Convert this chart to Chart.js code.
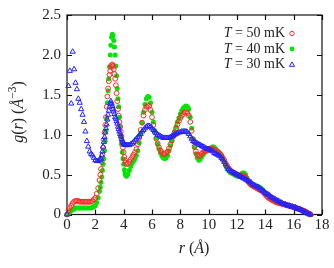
<!DOCTYPE html>
<html>
<head>
<meta charset="utf-8">
<script src="https://cdn.jsdelivr.net/npm/chart.js@4.4.0/dist/chart.umd.min.js"></script>
<style>
  html, body { margin: 0; padding: 0; background: #fff; }
  #wrap { width: 334px; height: 268px; }
</style>
</head>
<body>
<div id="wrap"><canvas id="myChart" width="334" height="268"></canvas></div>
<script>
// r grid (Å): 0.1 steps, 0.05 steps around the first peak
const radius = [
  0.0, 0.1, 0.2, 0.3, 0.4, 0.5, 0.6, 0.7, 0.8, 0.9, 1.0, 1.1, 1.2, 1.3, 1.4, 1.5, 1.6, 1.7, 1.8, 1.9, 2.0, 2.1, 2.2, 2.3,
  2.35, 2.40, 2.45, 2.50, 2.55, 2.60, 2.65, 2.70, 2.75, 2.80, 2.85, 2.90, 2.95, 3.00, 3.05, 3.10, 3.15, 3.20, 3.25,
  3.30, 3.35, 3.40, 3.45, 3.50, 3.55, 3.60, 3.65, 3.70, 3.75, 3.80, 3.85, 3.90, 3.95, 4.00, 4.05, 4.10, 4.15, 4.20,
  4.3, 4.4, 4.5, 4.6, 4.7, 4.8, 4.9, 5.0, 5.1, 5.2,
  5.3, 5.4, 5.5, 5.6, 5.7, 5.8, 5.9, 6.0, 6.1, 6.2,
  6.3, 6.4, 6.5, 6.6, 6.7, 6.8, 6.9, 7.0, 7.1, 7.2,
  7.3, 7.4, 7.5, 7.6, 7.7, 7.8, 7.9, 8.0, 8.1, 8.2,
  8.3, 8.4, 8.5, 8.6, 8.7, 8.8, 8.9, 9.0, 9.1, 9.2,
  9.3, 9.4, 9.5, 9.6, 9.7, 9.8, 9.9, 10.0, 10.1, 10.2,
  10.3, 10.4, 10.5, 10.6, 10.7, 10.8, 10.9, 11.0, 11.1, 11.2,
  11.3, 11.4, 11.5, 11.6, 11.7, 11.8, 11.9, 12.0, 12.1, 12.2,
  12.3, 12.4, 12.5, 12.6, 12.7, 12.8, 12.9, 13.0, 13.1, 13.2,
  13.3, 13.4, 13.5, 13.6, 13.7, 13.8, 13.9, 14.0, 14.1, 14.2,
  14.3, 14.4, 14.5, 14.6, 14.7, 14.8, 14.9, 15.0, 15.1, 15.2,
  15.3, 15.4, 15.5, 15.6, 15.7, 15.8, 15.9, 16.0, 16.1, 16.2,
  16.3, 16.4, 16.5, 16.6, 16.7, 16.8, 16.9, 17.0, 17.1, 17.2,
];

// T = 50 mK
const g50 = [
  0.00, 0.05, 0.08, 0.11, 0.14, 0.16, 0.17, 0.17, 0.17, 0.16, 0.16, 0.16, 0.16, 0.16, 0.16, 0.16, 0.16, 0.16, 0.17, 0.19, 0.21, 0.26, 0.33, 0.43,
  0.50, 0.57, 0.66, 0.75, 0.84, 0.94, 1.03, 1.12, 1.22, 1.35, 1.48, 1.58, 1.67, 1.75, 1.80, 1.85, 1.87, 1.88, 1.86,
  1.82, 1.76, 1.70, 1.62, 1.52, 1.42, 1.32, 1.24, 1.16, 1.10, 1.04, 0.98, 0.90, 0.84, 0.78, 0.72, 0.68, 0.65, 0.63,
  0.64, 0.66, 0.69, 0.72, 0.75, 0.78, 0.82, 0.88, 0.96, 1.06,
  1.15, 1.24, 1.31, 1.35, 1.37, 1.36, 1.31, 1.22, 1.12, 1.03,
  0.95, 0.89, 0.84, 0.80, 0.78, 0.76, 0.76, 0.77, 0.79, 0.83,
  0.88, 0.93, 0.98, 1.03, 1.08, 1.13, 1.17, 1.21, 1.24, 1.26,
  1.28, 1.28, 1.27, 1.24, 1.16, 1.05, 0.94, 0.85, 0.79, 0.75,
  0.73, 0.74, 0.76, 0.78, 0.79, 0.80, 0.81, 0.81, 0.82, 0.82,
  0.82, 0.81, 0.80, 0.79, 0.78, 0.76, 0.74, 0.71, 0.68, 0.64,
  0.61, 0.58, 0.56, 0.54, 0.53, 0.52, 0.51, 0.50, 0.49, 0.49,
  0.49, 0.49, 0.48, 0.47, 0.44, 0.41, 0.39, 0.37, 0.36, 0.35,
  0.34, 0.33, 0.32, 0.31, 0.30, 0.29, 0.27, 0.25, 0.23, 0.21,
  0.20, 0.19, 0.18, 0.17, 0.16, 0.15, 0.15, 0.14, 0.14, 0.13,
  0.13, 0.12, 0.12, 0.11, 0.11, 0.10, 0.10, 0.09, 0.09, 0.08,
  0.07, 0.07, 0.06, 0.05, 0.05, 0.04, 0.03, 0.02, 0.01, 0.00,
];

// T = 40 mK
const g40 = [
  0.00, 0.01, 0.03, 0.05, 0.06, 0.07, 0.08, 0.08, 0.08, 0.08, 0.08, 0.08, 0.08, 0.08, 0.08, 0.08, 0.08, 0.08, 0.09, 0.10, 0.11, 0.15, 0.21, 0.29,
  0.34, 0.40, 0.47, 0.55, 0.63, 0.70, 0.80, 0.92, 1.05, 1.20, 1.40, 1.55, 1.70, 1.85, 2.00, 2.12, 2.22, 2.26, 2.24,
  2.18, 2.10, 2.00, 1.86, 1.74, 1.58, 1.45, 1.35, 1.22, 1.10, 0.98, 0.88, 0.78, 0.70, 0.63, 0.56, 0.51, 0.49, 0.48,
  0.50, 0.55, 0.60, 0.64, 0.67, 0.70, 0.74, 0.80, 0.90, 1.02,
  1.15, 1.28, 1.38, 1.45, 1.48, 1.47, 1.40, 1.28, 1.16, 1.05,
  0.96, 0.88, 0.82, 0.77, 0.73, 0.71, 0.70, 0.71, 0.74, 0.80,
  0.86, 0.92, 0.98, 1.04, 1.10, 1.16, 1.21, 1.26, 1.30, 1.33,
  1.35, 1.36, 1.35, 1.32, 1.22, 1.08, 0.95, 0.84, 0.76, 0.71,
  0.68, 0.69, 0.72, 0.75, 0.77, 0.79, 0.80, 0.81, 0.83, 0.84,
  0.85, 0.84, 0.82, 0.80, 0.78, 0.76, 0.73, 0.70, 0.66, 0.61,
  0.57, 0.55, 0.53, 0.52, 0.51, 0.50, 0.49, 0.48, 0.48, 0.49,
  0.51, 0.52, 0.52, 0.50, 0.46, 0.42, 0.39, 0.37, 0.36, 0.35,
  0.35, 0.35, 0.35, 0.34, 0.33, 0.31, 0.29, 0.27, 0.25, 0.23,
  0.21, 0.19, 0.18, 0.17, 0.16, 0.15, 0.15, 0.14, 0.14, 0.13,
  0.13, 0.13, 0.12, 0.12, 0.11, 0.10, 0.10, 0.09, 0.09, 0.08,
  0.07, 0.07, 0.06, 0.05, 0.05, 0.04, 0.03, 0.02, 0.01, 0.00,
];

// T = 30 mK
const g30 = [
  0.00, 1.61, 1.80, 1.39, 2.04, 1.82, 1.65, 1.57, 1.45, 1.40, 1.32, 1.25, 1.16, 1.04, 0.92, 0.85, 0.79, 0.76, 0.74, 0.71, 0.68, 0.67, 0.67, 0.69,
  0.68, 0.70, 0.74, 0.79, 0.85, 0.91, 0.97, 1.03, 1.08, 1.13, 1.19, 1.25, 1.30, 1.35, 1.39, 1.42, 1.39, 1.36, 1.32,
  1.29, 1.26, 1.22, 1.20, 1.17, 1.14, 1.10, 1.07, 1.04, 1.01, 0.98, 0.95, 0.93, 0.91, 0.89, 0.88, 0.87, 0.87, 0.87,
  0.87, 0.87, 0.88, 0.89, 0.91, 0.93, 0.95, 0.97, 0.99, 1.01,
  1.04, 1.06, 1.08, 1.10, 1.11, 1.11, 1.10, 1.08, 1.06, 1.04,
  1.02, 1.00, 0.99, 0.98, 0.97, 0.96, 0.96, 0.96, 0.96, 0.96,
  0.97, 0.98, 0.99, 1.00, 1.01, 1.02, 1.03, 1.03, 1.04, 1.04,
  1.04, 1.04, 1.03, 1.01, 0.98, 0.95, 0.92, 0.91, 0.90, 0.89,
  0.88, 0.87, 0.86, 0.85, 0.84, 0.83, 0.82, 0.82, 0.81, 0.80,
  0.79, 0.77, 0.76, 0.75, 0.74, 0.73, 0.71, 0.69, 0.66, 0.63,
  0.60, 0.57, 0.55, 0.54, 0.53, 0.52, 0.51, 0.50, 0.49, 0.48,
  0.47, 0.46, 0.45, 0.44, 0.43, 0.42, 0.41, 0.40, 0.38, 0.37,
  0.36, 0.35, 0.34, 0.33, 0.31, 0.30, 0.29, 0.27, 0.26, 0.25,
  0.24, 0.22, 0.21, 0.20, 0.19, 0.18, 0.17, 0.16, 0.15, 0.14,
  0.13, 0.13, 0.12, 0.11, 0.11, 0.10, 0.10, 0.09, 0.09, 0.08,
  0.07, 0.07, 0.06, 0.05, 0.04, 0.03, 0.02, 0.01, 0.00, 0.00,
];

const xTicks = [0, 2, 4, 6, 8, 10, 12, 14, 16, 18];
const yTicks = [0, 0.5, 1, 1.5, 2, 2.5];
const seriesNames = ["50", "40", "30"];

const RED = "#ff2a2a";
const GREEN = "#00e600";
const BLUE = "#2222ff";
const SERIF = "'Liberation Serif', 'DejaVu Serif', serif";

function points(values) {
  return radius.map((r, i) => ({ x: r, y: values[i] }));
}

// draws a list of [text, style, raise] pieces one after another
function drawRuns(ctx, runs, x, y, align, size) {
  const fontOf = (run) => {
    const s = run[2] ? size * 0.72 : size;
    return (run[1] === "i" ? "italic " : "") + s + "px " + SERIF;
  };
  let total = 0;
  runs.forEach((run) => {
    ctx.font = fontOf(run);
    total += ctx.measureText(run[0]).width;
  });
  let cx = x;
  if (align === "center") cx = x - total / 2;
  if (align === "right") cx = x - total;
  ctx.textBaseline = "middle";
  ctx.textAlign = "left";
  runs.forEach((run) => {
    ctx.font = fontOf(run);
    ctx.fillText(run[0], cx, y - (run[2] || 0));
    cx += ctx.measureText(run[0]).width;
  });
}

function marker(ctx, kind, x, y) {
  ctx.lineWidth = 1;
  if (kind === 0) {
    ctx.strokeStyle = RED;
    ctx.beginPath();
    ctx.arc(x, y, 2.2, 0, Math.PI * 2);
    ctx.stroke();
  } else if (kind === 1) {
    ctx.fillStyle = GREEN;
    ctx.beginPath();
    ctx.arc(x, y, 2.4, 0, Math.PI * 2);
    ctx.fill();
  } else {
    ctx.strokeStyle = BLUE;
    ctx.beginPath();
    ctx.moveTo(x - 2.6, y + 1.8);
    ctx.lineTo(x + 2.6, y + 1.8);
    ctx.lineTo(x, y - 2.6);
    ctx.closePath();
    ctx.stroke();
  }
}

const framePlugin = {
  id: "frame",
  beforeDatasetsDraw(chart) {
    const { ctx, chartArea: a, scales } = chart;
    ctx.save();
    ctx.strokeStyle = "#111";
    ctx.lineWidth = 1.2;
    ctx.strokeRect(a.left, a.top, a.right - a.left, a.bottom - a.top);
    ctx.beginPath();
    xTicks.forEach((v) => {
      const px = Math.round(scales.x.getPixelForValue(v)) + 0.5;
      ctx.moveTo(px, a.bottom);
      ctx.lineTo(px, a.bottom - 5);
      ctx.moveTo(px, a.top);
      ctx.lineTo(px, a.top + 5);
    });
    yTicks.forEach((v) => {
      const py = Math.round(scales.y.getPixelForValue(v)) + 0.5;
      ctx.moveTo(a.left, py);
      ctx.lineTo(a.left + 5, py);
      ctx.moveTo(a.right, py);
      ctx.lineTo(a.right - 5, py);
    });
    ctx.stroke();
    ctx.restore();
  },
  afterDraw(chart) {
    const ctx = chart.ctx;
    ctx.save();
    ctx.fillStyle = "#222";

    // y title
    ctx.save();
    ctx.translate(19, 112);
    ctx.rotate(-Math.PI / 2);
    drawRuns(ctx, [["g", "i"], ["(", ""], ["r", "i"], [") (", ""], ["Å", "i"], ["−3", "", 6], [")", ""]], 0, 0, "center", 16);
    ctx.restore();

    // x title
    drawRuns(ctx, [["r", "i"], [" (", ""], ["Å", "i"], [")", ""]], 194, 249, "center", 16);

    // legend
    seriesNames.forEach((name, i) => {
      const ly = 33.5 + 15.5 * i;
      ctx.fillStyle = "#222";
      drawRuns(ctx, [["T", "i"], [" = " + name + " mK", ""]], 285, ly, "right", 14);
      marker(ctx, i, 292, ly);
    });
    ctx.restore();
  },
};

const ctx = document.getElementById("myChart");

const data = {
  datasets: [
    {
      label: "T = 30 mK",
      data: points(g30),
      pointStyle: "triangle",
      pointRadius: 3,
      borderColor: BLUE,
      backgroundColor: "rgba(0,0,0,0)",
      pointBorderWidth: 1,
      showLine: false,
      clip: false,
      order: 0,
    },
    {
      label: "T = 50 mK",
      data: points(g50),
      pointStyle: "circle",
      pointRadius: 2.4,
      borderColor: RED,
      backgroundColor: "rgba(0,0,0,0)",
      pointBorderWidth: 1,
      showLine: false,
      clip: false,
      order: 1,
    },
    {
      label: "T = 40 mK",
      data: points(g40),
      pointStyle: "circle",
      pointRadius: 2.5,
      borderColor: GREEN,
      backgroundColor: GREEN,
      pointBorderWidth: 0,
      showLine: false,
      clip: false,
      order: 2,
    },
  ],
};

const config = {
  type: "scatter",
  data: data,
  options: {
    responsive: false,
    animation: false,
    devicePixelRatio: 1,
    layout: { padding: { top: 11, right: 12, left: 0, bottom: 0 } },
    plugins: { legend: { display: false }, tooltip: { enabled: false } },
    scales: {
      x: {
        type: "linear",
        min: 0,
        max: 18,
        afterBuildTicks: (s) => { s.ticks = xTicks.map((v) => ({ value: v })); },
        ticks: { font: { family: SERIF, size: 15 }, color: "#222", padding: 2 },
        grid: { display: false, drawTicks: false },
        border: { display: false },
        afterFit: (s) => { s.height = 53.5; },
      },
      y: {
        type: "linear",
        min: 0,
        max: 2.5,
        afterBuildTicks: (s) => { s.ticks = yTicks.map((v) => ({ value: v })); },
        ticks: { font: { family: SERIF, size: 15 }, color: "#222", padding: 6 },
        grid: { display: false, drawTicks: false },
        border: { display: false },
        afterFit: (s) => { s.width = 67; },
      },
    },
  },
  plugins: [framePlugin],
};

const myChart = new Chart(ctx, config);
</script>
</body>
</html>
